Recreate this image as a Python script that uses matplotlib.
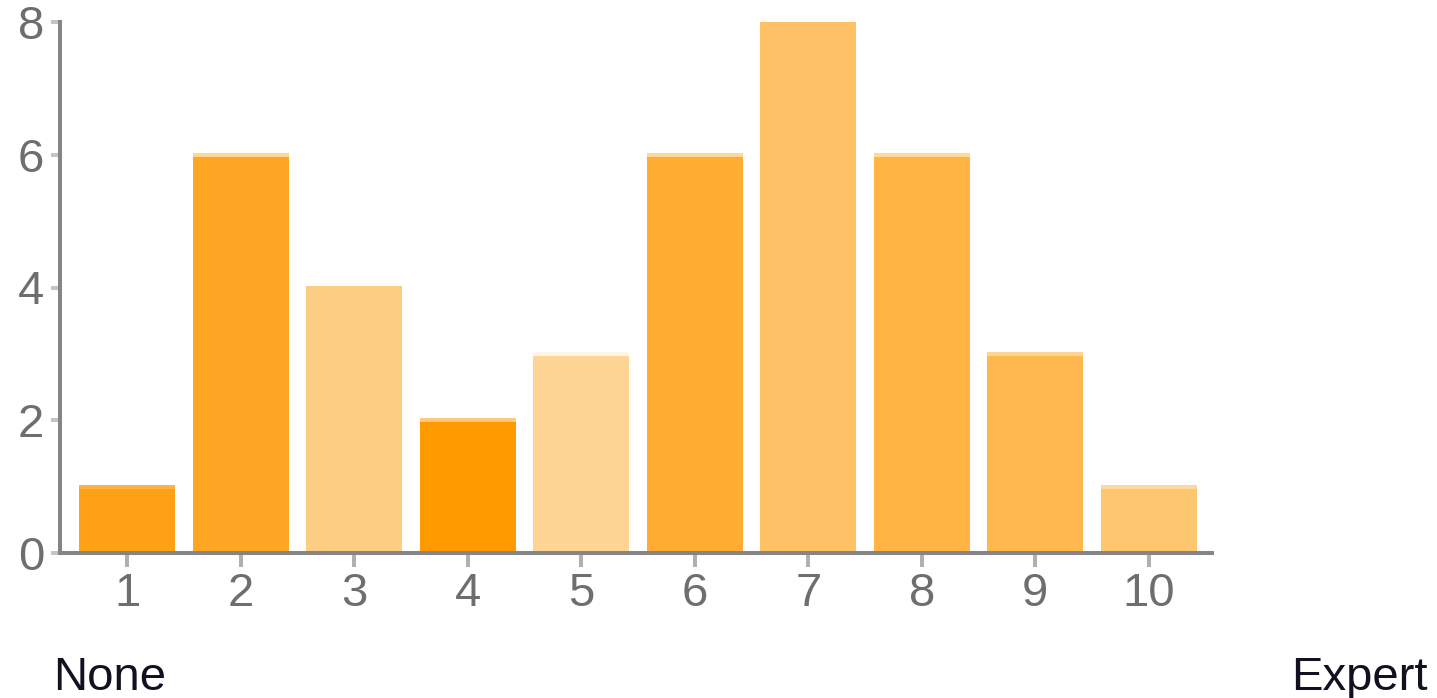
import matplotlib
matplotlib.use("Agg")
import matplotlib.pyplot as plt

categories = [1, 2, 3, 4, 5, 6, 7, 8, 9, 10]
counts = [1, 6, 4, 2, 3, 6, 8, 6, 3, 1]
y_ticks = [0, 2, 4, 6, 8]
left_label = "None"
right_label = "Expert"

bar_colors = ["#FFA114", "#FEA623", "#FDCD83", "#FF9900", "#FED594",
              "#FFAC33", "#FEC166", "#FFB444", "#FFB84D", "#FFC670"]
cap_colors = ["#FFB347", "#FFD595", "#FDCD83", "#FFCA80", "#FFF6E8",
              "#FFD69A", "#FEC166", "#FFD99A", "#FFD597", "#FFD89B"]

plt.rcParams['font.family'] = ['Liberation Sans', 'DejaVu Sans']

W, H = 1437, 698
fig = plt.figure(figsize=(W / 100, H / 100), dpi=100)
ax_l, ax_r = 60 / W, 1212 / W
ax_b, ax_t = (H - 553) / H, (H - 22) / H
ax = fig.add_axes([ax_l, ax_b, ax_r - ax_l, ax_t - ax_b])

width = 0.85
cap = 0.03
ax.bar(categories, counts, width=width, color=bar_colors, linewidth=0, zorder=2)
ax.bar(categories, [2 * cap] * len(counts), bottom=[c - cap for c in counts],
       width=width, color=cap_colors, linewidth=0, zorder=3)

ax.set_xlim(1 - 67.25 / 113.5, 1 + (1212 - 127.25) / 113.5)
ax.set_ylim(0, 8)
ax.set_xticks(categories)
ax.set_yticks(y_ticks)

for s in ["top", "right"]:
    ax.spines[s].set_visible(False)
for s in ["left", "bottom"]:
    ax.spines[s].set_color("#858585")
    ax.spines[s].set_linewidth(2.9)
    ax.spines[s].set_zorder(4)

ax.tick_params(axis="y", length=6.5, width=2.9, color="#c4c4c4", pad=5,
               labelsize=34, labelcolor="#6e6e6e")
ax.tick_params(axis="x", length=10, width=2.9, color="#b0b0b0", pad=4,
               labelsize=34, labelcolor="#6e6e6e")

fig.text(53 / W, 1 - 690 / H, left_label, fontsize=34, color="#111122",
         ha="left", va="baseline")
fig.text(1428 / W, 1 - 690 / H, right_label, fontsize=34, color="#111122",
         ha="right", va="baseline")

fig.savefig("out.png", dpi=100, facecolor="white")
